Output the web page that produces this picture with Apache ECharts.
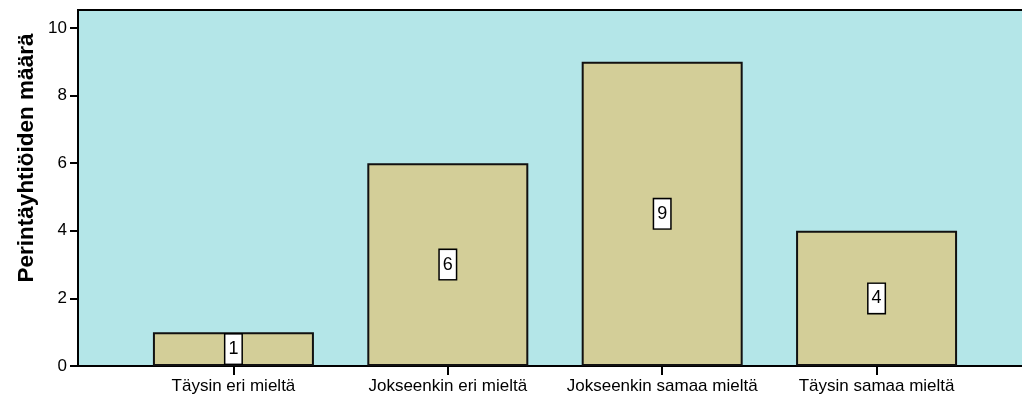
<!DOCTYPE html>
<html>
<head>
<meta charset="utf-8">
<script src="https://cdn.jsdelivr.net/npm/echarts@6/dist/echarts.min.js"></script>
<style>
  html, body { margin: 0; padding: 0; background: #fff; }
  #chart { width: 1022px; height: 398px; }
</style>
</head>
<body>
<div id="chart"></div>
<script>
// Answer categories and the number of companies for each
const categories = ['Täysin eri mieltä', 'Jokseenkin eri mieltä', 'Jokseenkin samaa mieltä', 'Täysin samaa mieltä'];
const counts = [1, 6, 9, 4];
const yTicks = [0, 2, 4, 6, 8, 10];
const yTitle = 'Perintäyhtiöiden määrä';

const font = 'Liberation Sans, Arial, sans-serif';
const positions = categories.map((_, i) => i + 1);

const chart = echarts.init(document.getElementById('chart'), null, { renderer: 'canvas' });
chart.setOption({
  animation: false,
  backgroundColor: '#ffffff',
  grid: {
    left: 78, top: 10, width: 954, bottom: 32,
    outerBoundsMode: 'none',
    containLabel: false,
    show: true,
    backgroundColor: '#b4e6e8',
    borderColor: '#000',
    borderWidth: 2
  },
  xAxis: {
    type: 'value',
    min: 0.275,
    max: 4.725,
    splitLine: { show: false },
    axisLine: { show: true, onZero: false, lineStyle: { color: '#000', width: 2 } },
    axisTick: { show: true, customValues: positions, length: 9, lineStyle: { color: '#000', width: 2 } },
    axisLabel: {
      customValues: positions,
      formatter: v => categories[Math.round(v) - 1] || '',
      color: '#000', fontFamily: font, fontSize: 17, margin: 12
    }
  },
  yAxis: {
    type: 'value',
    min: 0,
    max: 10.53,
    splitLine: { show: false },
    axisLine: { show: true, lineStyle: { color: '#000', width: 2 } },
    axisTick: { show: true, customValues: yTicks, length: 8, lineStyle: { color: '#000', width: 2 } },
    axisLabel: {
      customValues: yTicks,
      color: '#000', fontFamily: font, fontSize: 17, margin: 11
    }
  },
  graphic: [{
    type: 'text',
    x: 27,
    y: 158,
    rotation: Math.PI / 2,
    style: {
      text: yTitle,
      fill: '#000',
      font: 'bold 22.5px ' + font,
      align: 'center',
      verticalAlign: 'middle'
    }
  }],
  series: [{
    type: 'bar',
    data: counts.map((c, i) => [positions[i], c]),
    barWidth: 161,
    itemStyle: { color: '#d3ce98', borderColor: '#111', borderWidth: 2 },
    label: {
      show: true,
      position: 'inside',
      formatter: p => String(p.value[1]),
      color: '#000',
      fontFamily: font,
      fontSize: 18,
      backgroundColor: '#fff',
      borderColor: '#000',
      borderWidth: 1.5,
      padding: [6, 3, 5, 3]
    }
  }]
});
</script>
</body>
</html>
